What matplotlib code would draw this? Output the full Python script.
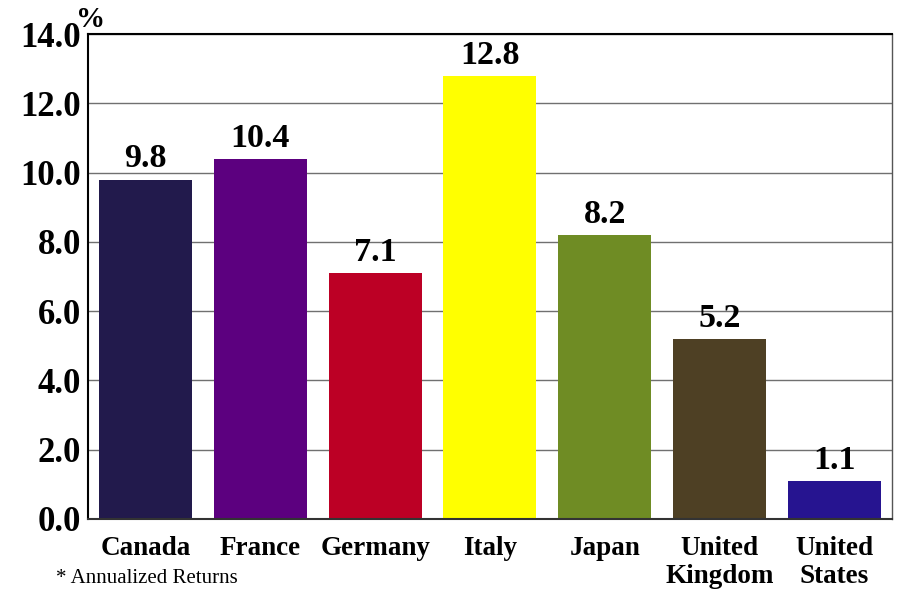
import matplotlib
matplotlib.use('Agg')
import matplotlib.pyplot as plt

# DATA
countries = ['Canada', 'France', 'Germany', 'Italy', 'Japan', 'United\nKingdom', 'United\nStates']
returns = [9.8, 10.4, 7.1, 12.8, 8.2, 5.2, 1.1]
colors = ['#221a4c', '#5c007f', '#bc0025', '#ffff00', '#6f8c24', '#4e4024', '#261490']
yticks = [0, 2, 4, 6, 8, 10, 12, 14]

plt.rcParams['font.family'] = ['Liberation Serif', 'DejaVu Serif']

fig = plt.figure(figsize=(9.02, 5.89), dpi=100)
ax = fig.add_axes([0.0976, 0.119, 0.891, 0.823])

x = range(len(countries))
bars = ax.bar(x, returns, width=0.81, color=colors, zorder=2)

for xi, v in zip(x, returns):
    ax.text(xi, v + 0.15, f'{v:.1f}', ha='center', va='bottom',
            fontsize=24.5, fontweight='bold', zorder=3)

ax.set_xlim(-0.5, len(countries) - 0.5)
ax.set_ylim(0, 14)
ax.set_yticks(yticks)
ax.set_yticklabels([f'{t:.1f}' for t in yticks], fontsize=25, fontweight='bold')
ax.set_xticks(list(x))
ax.set_xticklabels(countries, fontsize=19.5, fontweight='bold', linespacing=1.2)
ax.tick_params(axis='both', length=0)
ax.tick_params(axis='y', pad=5)
ax.tick_params(axis='x', pad=12)

ax.grid(axis='y', color='#707070', linewidth=1.0, zorder=1)
for side in ['left', 'top']:
    ax.spines[side].set_color('black')
    ax.spines[side].set_linewidth(1.5)
ax.spines['right'].set_color('#555555')
ax.spines['right'].set_linewidth(1.0)
ax.spines['bottom'].set_color('#333333')
ax.spines['bottom'].set_linewidth(1.5)
ax.spines['bottom'].set_zorder(4)

fig.text(0.084, 0.99, '%', fontsize=21, fontweight='bold', va='top', ha='left')
fig.text(0.062, 0.002, '* Annualized Returns', fontsize=15, va='bottom', ha='left')

fig.savefig('out.png', dpi=100)
